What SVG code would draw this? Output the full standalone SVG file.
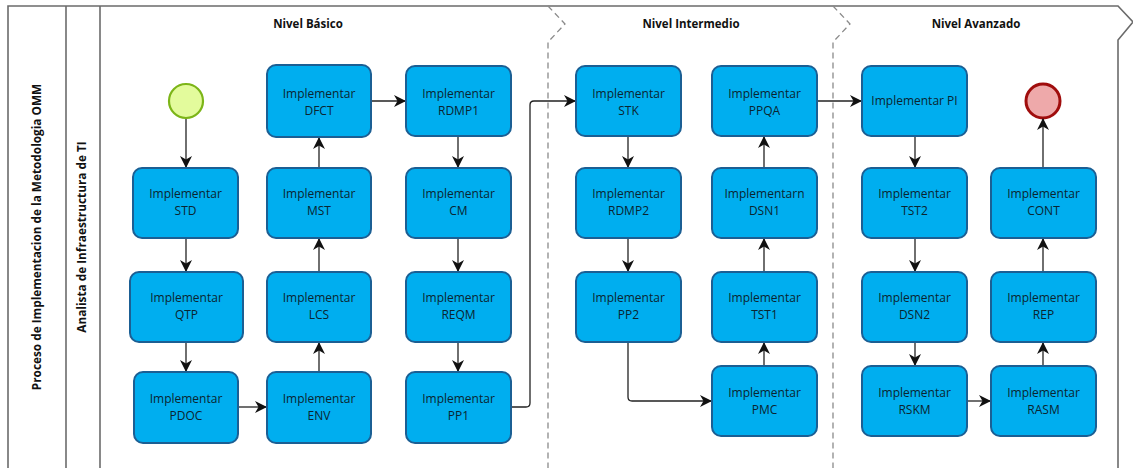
<svg xmlns="http://www.w3.org/2000/svg" width="1133" height="468" viewBox="0 0 1133 468">
  <style>
    .frame { fill: none; stroke: #6b6b6b; stroke-width: 1.6; }
    .phase { fill: none; stroke: #8a8a8a; stroke-width: 1.3; stroke-dasharray: 6 4; }
    .task rect { fill: #00aeef; stroke: #1b5f94; stroke-width: 2; }
    .task text { font-family: "Segoe UI", "Open Sans", "Noto Sans", sans-serif; font-size: 12px; fill: #0b2530; text-anchor: middle; }
    .hdr { font-family: "Segoe UI", "Open Sans", "Noto Sans", sans-serif; font-size: 11.5px; font-weight: bold; fill: #111; text-anchor: middle; }
    .lane { font-family: "Segoe UI", "Open Sans", "Noto Sans", sans-serif; font-size: 11.8px; font-weight: bold; fill: #111; text-anchor: middle; dominant-baseline: middle; }
    .flow path { fill: none; stroke: #222; stroke-width: 1.3; marker-end: url(#arrow); }
  </style>
  <defs>
    <marker id="arrow" viewBox="0 0 12 12" refX="11" refY="6" markerWidth="12" markerHeight="12" markerUnits="userSpaceOnUse" orient="auto">
      <path d="M0,0 L12,6 L0,12 L3.5,6 z" fill="#111"/>
    </marker>
  </defs>

  <rect width="1133" height="468" fill="#ffffff"/>

  <!-- pool and lane frame -->
  <g id="pool">
    <path class="frame" d="M8,470 L8,6 L1118,6 L1133,22 L1118,40 L1118,470"/>
    <line class="frame" x1="66" y1="6" x2="66" y2="470"/>
    <line class="frame" x1="100" y1="6" x2="100" y2="470"/>
    <text class="lane" transform="translate(38,237) rotate(-90)">Proceso de Implementacion de la Metodologia OMM</text>
    <text class="lane" transform="translate(83,237) rotate(-90)">Analista de Infraestructura de TI</text>
  </g>

  <!-- phase separators -->
  <g id="phases">
    <path class="phase" d="M548,6 L565,24 L548,42 L548,470"/>
    <path class="phase" d="M833,6 L850,24 L833,42 L833,470"/>
    <text class="hdr" x="308" y="28">Nivel Básico</text>
    <text class="hdr" x="691" y="28">Nivel Intermedio</text>
    <text class="hdr" x="976" y="28">Nivel Avanzado</text>
  </g>

  <!-- events -->
  <g id="start">
    <circle cx="186" cy="101" r="17" fill="#e3fb9c" stroke="#7cb518" stroke-width="2.2"/>
  </g>
  <g id="end">
    <circle cx="1043" cy="101" r="17" fill="#eea9aa" stroke="#a00d0d" stroke-width="3"/>
  </g>

  <!-- connectors -->
  <g id="connectors" class="flow">
    <path d="M186,119 L186,167"/>
    <path d="M186,238 L186,271"/>
    <path d="M186,342 L186,371"/>
    <path d="M238,407 L266,407"/>
    <path d="M319,372 L319,343"/>
    <path d="M319,272 L319,239"/>
    <path d="M319,168 L319,138"/>
    <path d="M370,101 L405,101"/>
    <path d="M458,136 L458,167"/>
    <path d="M458,238 L458,271"/>
    <path d="M458,342 L458,371"/>
    <path d="M511,407 L526,407 Q530,407 530,403 L530,105 Q530,101 534,101 L575,101"/>
    <path d="M628,136 L628,167"/>
    <path d="M628,238 L628,271"/>
    <path d="M628,342 L628,397 Q628,401 632,401 L711,401"/>
    <path d="M764,366 L764,343"/>
    <path d="M764,272 L764,239"/>
    <path d="M764,168 L764,137"/>
    <path d="M817,101 L861,101"/>
    <path d="M915,136 L915,167"/>
    <path d="M915,238 L915,271"/>
    <path d="M915,342 L915,365"/>
    <path d="M967,401 L990,401"/>
    <path d="M1043,366 L1043,343"/>
    <path d="M1043,272 L1043,239"/>
    <path d="M1043,168 L1043,119"/>
  </g>

  <!-- tasks: Nivel Básico -->
  <g id="std" class="task"><rect x="133" y="168" width="105" height="70" rx="9"/><text x="185.5" y="198">Implementar</text><text x="185.5" y="215">STD</text></g>
  <g id="qtp" class="task"><rect x="130" y="272" width="113" height="70" rx="9"/><text x="186.5" y="302">Implementar</text><text x="186.5" y="319">QTP</text></g>
  <g id="pdoc" class="task"><rect x="134" y="372" width="104" height="71" rx="9"/><text x="186" y="403">Implementar</text><text x="186" y="420">PDOC</text></g>
  <g id="env" class="task"><rect x="267" y="372" width="104" height="71" rx="9"/><text x="319" y="403">Implementar</text><text x="319" y="420">ENV</text></g>
  <g id="lcs" class="task"><rect x="267" y="272" width="104" height="70" rx="9"/><text x="319" y="302">Implementar</text><text x="319" y="319">LCS</text></g>
  <g id="mst" class="task"><rect x="267" y="168" width="104" height="70" rx="9"/><text x="319" y="198">Implementar</text><text x="319" y="215">MST</text></g>
  <g id="dfct" class="task"><rect x="267" y="65" width="104" height="72" rx="9"/><text x="319" y="98">Implementar</text><text x="319" y="115">DFCT</text></g>
  <g id="rdmp1" class="task"><rect x="406" y="66" width="105" height="70" rx="9"/><text x="458.5" y="98">Implementar</text><text x="458.5" y="115">RDMP1</text></g>
  <g id="cm" class="task"><rect x="406" y="168" width="105" height="70" rx="9"/><text x="458.5" y="198">Implementar</text><text x="458.5" y="215">CM</text></g>
  <g id="reqm" class="task"><rect x="406" y="272" width="105" height="70" rx="9"/><text x="458.5" y="302">Implementar</text><text x="458.5" y="319">REQM</text></g>
  <g id="pp1" class="task"><rect x="406" y="372" width="105" height="71" rx="9"/><text x="458.5" y="403">Implementar</text><text x="458.5" y="420">PP1</text></g>

  <!-- tasks: Nivel Intermedio -->
  <g id="stk" class="task"><rect x="576" y="66" width="105" height="70" rx="9"/><text x="628.5" y="98">Implementar</text><text x="628.5" y="115">STK</text></g>
  <g id="rdmp2" class="task"><rect x="576" y="168" width="105" height="70" rx="9"/><text x="628.5" y="198">Implementar</text><text x="628.5" y="215">RDMP2</text></g>
  <g id="pp2" class="task"><rect x="576" y="272" width="105" height="70" rx="9"/><text x="628.5" y="302">Implementar</text><text x="628.5" y="319">PP2</text></g>
  <g id="pmc" class="task"><rect x="712" y="366" width="105" height="70" rx="9"/><text x="764.5" y="397">Implementar</text><text x="764.5" y="414">PMC</text></g>
  <g id="tst1" class="task"><rect x="712" y="272" width="105" height="70" rx="9"/><text x="764.5" y="302">Implementar</text><text x="764.5" y="319">TST1</text></g>
  <g id="dsn1" class="task"><rect x="712" y="168" width="105" height="70" rx="9"/><text x="764.5" y="198">Implementarn</text><text x="764.5" y="215">DSN1</text></g>
  <g id="ppqa" class="task"><rect x="712" y="66" width="105" height="70" rx="9"/><text x="764.5" y="98">Implementar</text><text x="764.5" y="115">PPQA</text></g>

  <!-- tasks: Nivel Avanzado -->
  <g id="pi" class="task"><rect x="862" y="66" width="105" height="70" rx="9"/><text x="914.5" y="105">Implementar PI</text></g>
  <g id="tst2" class="task"><rect x="862" y="168" width="105" height="70" rx="9"/><text x="914.5" y="198">Implementar</text><text x="914.5" y="215">TST2</text></g>
  <g id="dsn2" class="task"><rect x="862" y="272" width="105" height="70" rx="9"/><text x="914.5" y="302">Implementar</text><text x="914.5" y="319">DSN2</text></g>
  <g id="rskm" class="task"><rect x="862" y="366" width="105" height="70" rx="9"/><text x="914.5" y="397">Implementar</text><text x="914.5" y="414">RSKM</text></g>
  <g id="rasm" class="task"><rect x="991" y="366" width="105" height="70" rx="9"/><text x="1043.5" y="397">Implementar</text><text x="1043.5" y="414">RASM</text></g>
  <g id="rep" class="task"><rect x="991" y="272" width="105" height="70" rx="9"/><text x="1043.5" y="302">Implementar</text><text x="1043.5" y="319">REP</text></g>
  <g id="cont" class="task"><rect x="991" y="168" width="105" height="70" rx="9"/><text x="1043.5" y="198">Implementar</text><text x="1043.5" y="215">CONT</text></g>
</svg>
